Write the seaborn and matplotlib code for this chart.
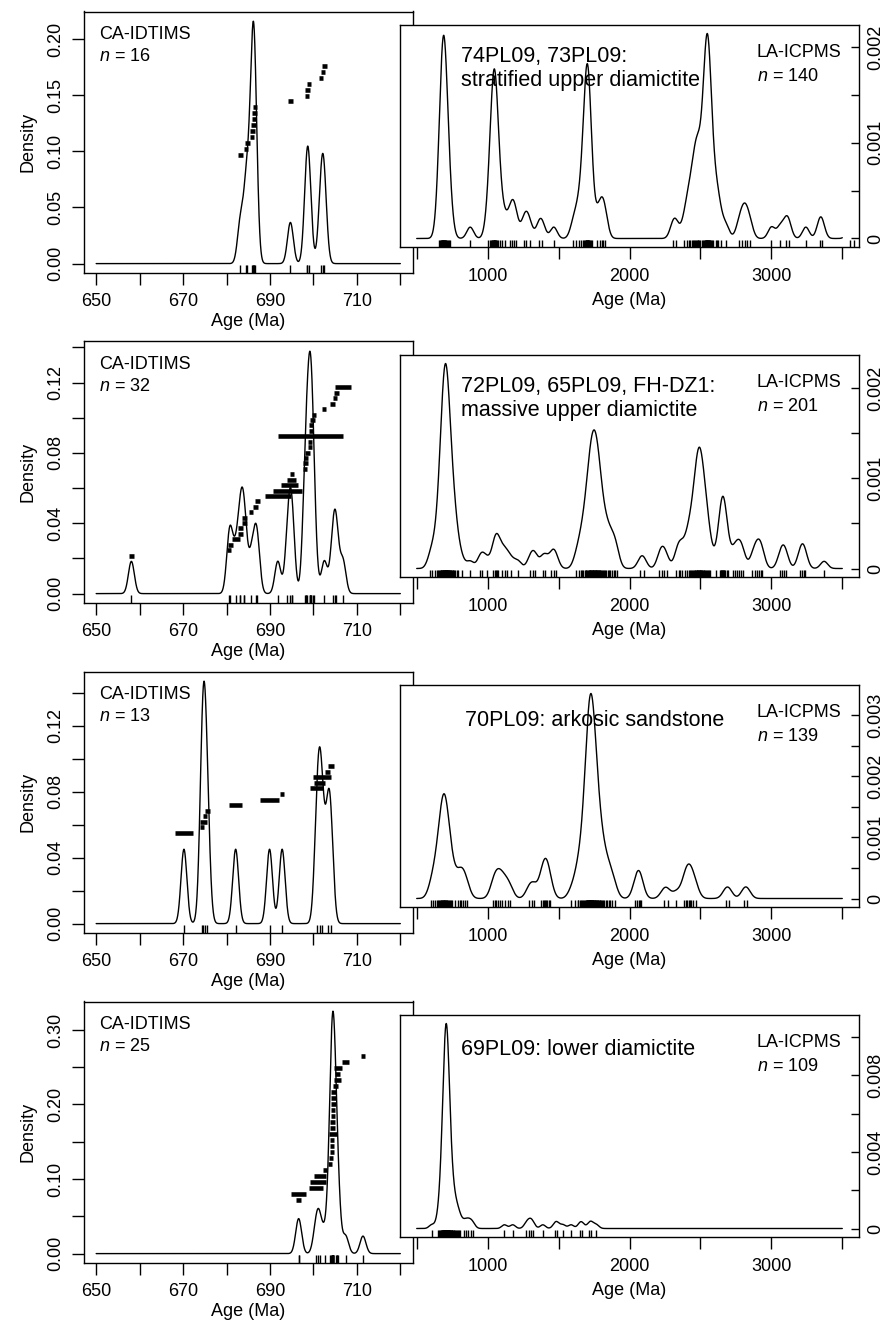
import numpy as np
import matplotlib
matplotlib.use("Agg")
import matplotlib.pyplot as plt
import seaborn as sns

# -----------------------------
# Data: CA-IDTIMS grain ages (Ma) with half-widths of the error bars
# -----------------------------
tims_ages_1 = [683.2, 684.5, 684.8, 685.9, 686.0, 686.2, 686.3, 686.4, 686.5,
               694.7, 698.5, 698.6, 699.0, 701.7, 702.2, 702.5]
tims_err_1 = [0.55, 0.5, 0.55, 0.5, 0.55, 0.5, 0.5, 0.5, 0.5,
              0.5, 0.5, 0.5, 0.5, 0.5, 0.55, 0.55]

tims_ages_2 = [658.1, 680.6, 680.9, 682.1, 683.2, 683.2, 684.1, 684.1, 685.7, 686.7,
               687.1, 691.8, 694.0, 694.5, 695.0, 695.1, 698.0, 698.2, 698.3, 698.6,
               699.2, 699.2, 699.3, 699.4, 699.5, 699.8, 700.2, 702.5, 704.4, 705.0,
               705.3, 706.8]
tims_err_2 = [0.5, 0.5, 0.5, 0.9, 0.5, 0.5, 0.5, 0.5, 0.5, 0.5,
              0.5, 3.0, 3.4, 2.0, 1.0, 0.5, 0.5, 0.5, 0.5, 0.5,
              0.5, 0.5, 7.4, 0.5, 0.5, 0.5, 0.5, 0.5, 0.5, 0.5,
              0.5, 1.8]

tims_ages_3 = [670.2, 674.4, 674.6, 675.0, 675.6, 682.1, 689.9, 692.8,
               700.8, 701.4, 702.0, 703.3, 704.0]
tims_err_3 = [2.0, 0.5, 0.8, 0.5, 0.5, 1.5, 2.1, 0.5, 1.5, 1.3, 2.1, 0.6, 0.7]

tims_ages_4 = [696.6, 696.6, 700.5, 701.1, 701.5, 702.7, 703.8, 704.1, 704.2, 704.3,
               704.3, 704.5, 704.4, 704.4, 704.5, 704.5, 704.6, 704.6, 704.6, 705.1,
               705.5, 705.5, 705.6, 707.4, 711.4]
tims_err_4 = [0.5, 1.8, 1.6, 1.8, 1.4, 0.5, 0.5, 0.5, 0.5, 0.5,
              0.5, 0.9, 0.5, 0.5, 0.5, 0.5, 0.5, 0.5, 0.5, 0.5,
              0.8, 0.5, 0.9, 0.9, 0.5]

# -----------------------------
# Data: LA-ICPMS detrital ages (Ma)
# -----------------------------
la_ages_1 = [
    655, 663, 669, 673, 676, 679, 681, 683, 685, 687, 688, 690, 692, 694, 696, 698,
    701, 704, 708, 713, 719, 727, 738,
    877,
    1000, 1015, 1024, 1030, 1034, 1037, 1040, 1042, 1044, 1046, 1048, 1050, 1052, 1055,
    1058, 1062, 1067, 1074, 1085, 1100,
    1125, 1158, 1174, 1183, 1200,
    1255, 1272, 1296,
    1362, 1386,
    1466,
    1602, 1626, 1645, 1658, 1672, 1680, 1686, 1690, 1693, 1696, 1698, 1700, 1702, 1704,
    1706, 1708, 1710, 1713, 1716, 1720, 1726, 1733, 1770, 1790, 1806, 1816, 1830,
    2306, 2330, 2384, 2405,
    2418, 2428, 2440, 2450, 2458, 2465, 2470, 2475, 2480, 2486, 2492, 2500,
    2510, 2518, 2524, 2529, 2533, 2536, 2539, 2541, 2543, 2545, 2547, 2549, 2551, 2553,
    2555, 2557, 2560, 2563, 2566, 2570, 2575, 2582, 2592, 2610, 2615, 2622,
    2645, 2682,
    2770, 2796, 2811, 2826, 2851,
    3001, 3062, 3104, 3121,
    3243,
    3341, 3356,
    3556, 3581,
]

la_ages_2 = [
    594, 611, 626, 641, 653, 659, 664, 668, 671, 674, 677, 679, 682, 684, 686, 688,
    690, 692, 694, 696, 698, 699, 700, 701, 703, 704, 706, 708, 710, 711, 712, 714,
    716, 718, 720, 722, 725, 728, 731, 734, 737, 741, 745, 749, 754, 759, 765, 772,
    781, 790,
    818, 877, 948, 962, 995,
    1041, 1053, 1060, 1067, 1076, 1101, 1119, 1136, 1168, 1214,
    1298, 1321, 1336, 1389, 1406, 1449, 1466, 1481,
    1621, 1642, 1655, 1665, 1675, 1683, 1690, 1696, 1702, 1707, 1711, 1715, 1719, 1722,
    1725, 1728, 1731, 1734, 1737, 1740, 1743, 1746, 1749, 1752, 1755, 1758, 1761, 1764,
    1767, 1770, 1773, 1776, 1779, 1782, 1786, 1790, 1795, 1800, 1806, 1812, 1820, 1828,
    1836, 1845, 1855, 1865, 1878, 1890, 1901, 1913,
    2077, 2101,
    2211, 2226, 2241, 2262, 2331, 2346, 2356, 2371, 2392,
    2407, 2416, 2424, 2431, 2440, 2448, 2455, 2460, 2465, 2469, 2473, 2476, 2479, 2482,
    2485, 2488, 2491, 2494, 2497, 2500, 2503, 2506, 2510, 2514, 2518, 2522, 2527, 2532,
    2538, 2545, 2552, 2560, 2570,
    2610, 2636, 2642, 2647, 2651, 2654, 2657, 2660, 2664, 2669, 2675, 2684, 2696,
    2731, 2746, 2761, 2775, 2789, 2801,
    2866, 2884, 2901, 2913, 2925, 2937,
    3061, 3076, 3091, 3104,
    3199, 3214, 3227, 3236,
    3372,
]

la_ages_3 = [
    600, 615, 628, 640, 650, 658, 664, 669, 673, 677, 680, 683, 686, 689, 692, 695,
    698, 701, 704, 708, 712, 716, 721, 727, 734, 742, 752,
    770, 791, 806, 815, 826, 841, 856,
    1036, 1049, 1062, 1075, 1090, 1101, 1121,
    1141, 1161,
    1289, 1311, 1330,
    1374, 1389, 1398, 1404, 1411, 1418, 1429, 1441,
    1590, 1618, 1636, 1650, 1660, 1668, 1675, 1681, 1686, 1690, 1694, 1698, 1701, 1704,
    1707, 1709, 1711, 1713, 1715, 1717, 1719, 1721, 1723, 1725, 1727, 1729, 1731, 1733,
    1735, 1737, 1739, 1741, 1743, 1746, 1749, 1752, 1755, 1758, 1761, 1764, 1768, 1772,
    1776, 1780, 1785, 1790, 1795, 1801, 1808, 1815, 1823, 1832, 1842, 1853, 1866, 1880,
    1895, 1700, 1720, 1730, 1710, 1726, 1744, 1760, 1640,
    2041, 2056, 2065, 2071, 2081,
    2241, 2268,
    2331, 2381, 2396, 2405, 2416, 2425, 2436, 2451, 2470,
    2679, 2702,
    2809, 2831,
]

la_ages_4 = [
    648, 657, 664, 669, 673, 676, 679, 681, 683, 685, 687, 689, 690, 692, 693, 695,
    696, 697, 698, 699, 700, 701, 702, 702, 703, 704, 704, 705, 706, 706, 707, 707,
    708, 709, 709, 710, 711, 711, 712, 713, 714, 715, 716, 717, 718, 719, 720, 721,
    722, 724, 725, 727, 729, 731, 733, 735, 737, 740, 743, 746, 749, 752, 756, 760,
    765, 770, 776, 783, 790, 798, 703, 705, 708, 710, 712, 714, 716, 718, 700, 698,
    694, 691, 720, 723, 688, 726,
    606, 805, 830, 848, 862, 880, 896, 1118, 1177, 1271, 1290, 1305, 1318, 1389,
    1476, 1490, 1531, 1588, 1651, 1666, 1718, 1731, 1766,
]

sample_titles = [
    "74PL09, 73PL09:\nstratified upper diamictite",
    "72PL09, 65PL09, FH-DZ1:\nmassive upper diamictite",
    "70PL09: arkosic sandstone",
    "69PL09: lower diamictite",
]

tims_ages = [tims_ages_1, tims_ages_2, tims_ages_3, tims_ages_4]
tims_errs = [tims_err_1, tims_err_2, tims_err_3, tims_err_4]
la_ages = [la_ages_1, la_ages_2, la_ages_3, la_ages_4]

# -----------------------------
# Layout / style
# -----------------------------
sns.set_theme(style="white", rc={
    "axes.edgecolor": "black", "axes.linewidth": 1.0,
    "xtick.color": "black", "ytick.color": "black", "text.color": "black",
    "axes.labelcolor": "black", "xtick.bottom": True, "ytick.left": True,
})
plt.rcParams["font.family"] = ["Liberation Sans", "DejaVu Sans"]
plt.rcParams["mathtext.fontset"] = "custom"
plt.rcParams["mathtext.rm"] = "Liberation Sans"
plt.rcParams["mathtext.it"] = "Liberation Sans:italic"

W, H = 888, 1324
FS = 13
bar_span = [(0.097, 0.176), (0.0216, 0.1172), (0.055, 0.0955), (0.0715, 0.265)]
left_ystep = [(0.05, 1), (0.02, 2), (0.02, 2), (0.05, 2)]
right_ystep = [(0.0005, 2), (0.0005, 2), (0.0005, 2), (0.002, 2)]
la_bw = [24, 25, 28, 19]
title_xy = [(0.133, 0.805), (0.133, 0.805), (0.142, 0.843), (0.133, 0.846)]

fig = plt.figure(figsize=(W / 100, H / 100), dpi=100)


def set_y(ax, step, every, fmt):
    top = ax.get_ylim()[1]
    ticks = np.arange(0, top + 1e-12, step)
    labels = [fmt % t if i % every == 0 else "" for i, t in enumerate(ticks)]
    if fmt == "%g":
        labels[0] = "0"
    ax.set_yticks(ticks, labels)
    for lab in ax.get_yticklabels():
        lab.set_rotation(90)
        lab.set_va("center")


for r in range(4):
    dy = 330 * r

    # ---- left panel: CA-IDTIMS
    axL = fig.add_axes([84 / W, 1 - (dy + 273.3) / H, 328.5 / W, 261.8 / H])
    ages = np.array(tims_ages[r], dtype=float)
    errs = np.array(tims_errs[r], dtype=float)
    sns.kdeplot(x=ages, bw_method=0.68 / ages.std(ddof=1), cut=150, clip=(650, 720),
                gridsize=3000, color="black", lw=1.0, ax=axL)
    sns.rugplot(x=ages, height=0.03, color="black", lw=0.8, ax=axL)
    ypos = np.linspace(bar_span[r][0], bar_span[r][1], len(ages))
    axL.hlines(ypos, ages - errs, ages + errs, color="black", lw=3.3)
    peak = axL.lines[0].get_ydata().max()
    axL.set_ylim(-0.04 * peak, 1.04 * peak)
    axL.set_xlim(647.2, 722.8)
    axL.set_xticks(np.arange(650, 721, 10),
                   ["650", "", "670", "", "690", "", "710", ""])
    set_y(axL, left_ystep[r][0], left_ystep[r][1], "%.2f")
    axL.tick_params(axis="both", direction="out", length=8.5, width=1.0,
                    pad=5.5, labelsize=FS)
    axL.set_ylabel("Density", fontsize=FS)
    axL.set_xlabel("Age (Ma)", fontsize=FS)
    axL.yaxis.set_label_coords(-0.145, 0.5)
    axL.xaxis.set_label_coords(0.5, -0.152)
    axL.text(0.047, 0.914, "CA-IDTIMS", transform=axL.transAxes,
             ha="left", va="center", fontsize=FS)
    axL.text(0.047, 0.827, f"$n$ = {len(ages)}", transform=axL.transAxes,
             ha="left", va="center", fontsize=FS)

    # ---- right inset: LA-ICPMS
    axR = fig.add_axes([399.7 / W, 1 - (dy + 246.7) / H, 459.6 / W, 221.4 / H])
    axR.set_facecolor("white")
    la = np.array(la_ages[r], dtype=float)
    sns.kdeplot(x=la, bw_method=la_bw[r] / la.std(ddof=1), cut=300, clip=(500, 3500),
                gridsize=3000, color="black", lw=1.0, ax=axR)
    sns.rugplot(x=la, height=0.03, color="black", lw=0.7, ax=axR)
    peak = axR.lines[0].get_ydata().max()
    axR.set_ylim(-0.04 * peak, 1.04 * peak)
    axR.set_xlim(380, 3620)
    axR.set_xticks(np.arange(500, 3501, 500),
                   ["", "1000", "", "2000", "", "3000", ""])
    axR.yaxis.tick_right()
    set_y(axR, right_ystep[r][0], right_ystep[r][1], "%g")
    axR.tick_params(axis="x", direction="out", length=8.5, width=1.0,
                    pad=6.5, labelsize=FS)
    axR.tick_params(axis="y", direction="in", length=5.5, width=1.0,
                    pad=5.5, labelsize=FS, right=True, left=False)
    axR.set_ylabel("")
    axR.set_xlabel("Age (Ma)", fontsize=FS)
    axR.xaxis.set_label_coords(0.5, -0.205)
    axR.text(title_xy[r][0], title_xy[r][1], sample_titles[r], transform=axR.transAxes,
             ha="left", va="center", fontsize=15.5, linespacing=1.2)
    axR.text(0.777, 0.875, "LA-ICPMS", transform=axR.transAxes,
             ha="left", va="center", fontsize=FS)
    axR.text(0.777, 0.771, f"$n$ = {len(la)}", transform=axR.transAxes,
             ha="left", va="center", fontsize=FS)

fig.savefig("out.png", dpi=100)
